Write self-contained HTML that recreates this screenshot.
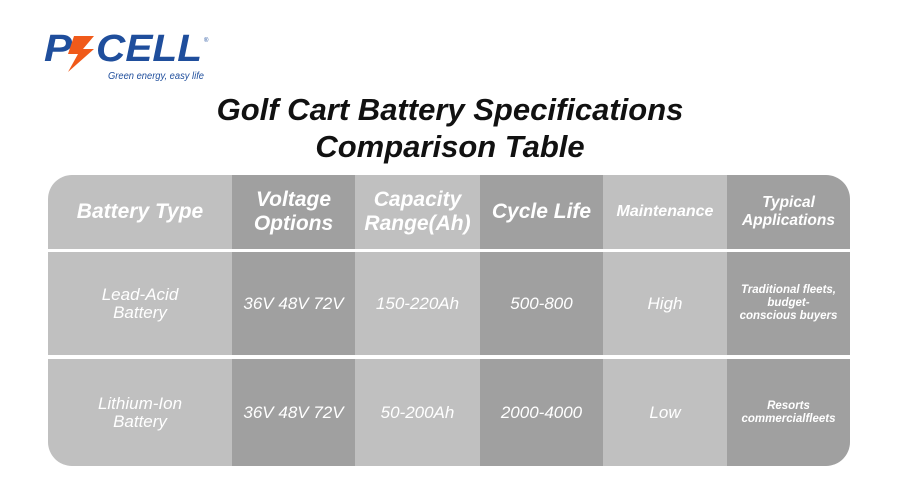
<!DOCTYPE html>
<html><head><meta charset="utf-8"><style>
body{margin:0;width:900px;height:500px;background:#fff;font-family:"Liberation Sans","DejaVu Sans",sans-serif;position:relative;overflow:hidden}
.logo{position:absolute;left:44px;top:30px}
.title{position:absolute;left:0;width:900px;top:91px;text-align:center;font-weight:bold;font-style:italic;font-size:31px;line-height:37px;color:#111}
.tbl{position:absolute;left:48px;top:175px;width:802px;height:291px;border-radius:24px;overflow:hidden;background:#fff}
.c{position:absolute;display:flex;align-items:center;justify-content:center;text-align:center;color:#fff;font-style:italic}
.l{background:#c0c0c0}.d{background:#a0a0a0}
.h{font-weight:bold;font-size:21px;line-height:24px}
.b{font-size:17px;line-height:18px}
.s{font-size:11.5px;line-height:13px;font-weight:bold}
</style></head><body>
<div class="logo">
<svg width="170" height="52" viewBox="0 0 170 52">
<text x="0" y="31" font-family="Liberation Sans" font-weight="bold" font-style="italic" font-size="38" fill="#1f4e9c" textLength="28" lengthAdjust="spacingAndGlyphs">P</text>
<polygon points="30,6 50,6 39,19 50,19 24,42 34,24 24,24" fill="#f05a1a"/>
<text x="52" y="31" font-family="Liberation Sans" font-weight="bold" font-style="italic" font-size="38" fill="#1f4e9c" textLength="106" lengthAdjust="spacingAndGlyphs">CELL</text>
<text x="160" y="12" font-size="6" fill="#1f4e9c">®</text>
<text x="64" y="49" font-family="Liberation Sans" font-style="italic" font-size="10" fill="#1f4e9c" textLength="96" lengthAdjust="spacingAndGlyphs">Green energy, easy life</text>
</svg></div>
<div class="title">Golf Cart Battery Specifications<br>Comparison Table</div>
<div class="tbl">
<div class="c l h" style="left:0;top:0;width:184px;height:74px">Battery Type</div>
<div class="c d h" style="left:184px;top:0;width:123px;height:74px">Voltage<br>Options</div>
<div class="c l h" style="left:307px;top:0;width:125px;height:74px">Capacity<br>Range(Ah)</div>
<div class="c d h" style="left:432px;top:0;width:123px;height:74px">Cycle Life</div>
<div class="c l" style="left:555px;top:0;width:124px;height:74px;font-weight:bold;font-size:16px">Maintenance</div>
<div class="c d" style="left:679px;top:0;width:123px;height:74px;font-weight:bold;font-size:15.5px;line-height:18px">Typical<br>Applications</div>

<div class="c l b" style="left:0;top:77px;width:184px;height:103px">Lead-Acid<br>Battery</div>
<div class="c d b" style="left:184px;top:77px;width:123px;height:103px">36V 48V 72V</div>
<div class="c l b" style="left:307px;top:77px;width:125px;height:103px">150-220Ah</div>
<div class="c d b" style="left:432px;top:77px;width:123px;height:103px">500-800</div>
<div class="c l b" style="left:555px;top:77px;width:124px;height:103px">High</div>
<div class="c d s" style="left:679px;top:77px;width:123px;height:103px">Traditional fleets,<br>budget-<br>conscious buyers</div>

<div class="c l b" style="left:0;top:184px;width:184px;height:107px">Lithium-Ion<br>Battery</div>
<div class="c d b" style="left:184px;top:184px;width:123px;height:107px">36V 48V 72V</div>
<div class="c l b" style="left:307px;top:184px;width:125px;height:107px">50-200Ah</div>
<div class="c d b" style="left:432px;top:184px;width:123px;height:107px">2000-4000</div>
<div class="c l b" style="left:555px;top:184px;width:124px;height:107px">Low</div>
<div class="c d s" style="left:679px;top:184px;width:123px;height:107px">Resorts<br>commercialfleets</div>
</div>
</body></html>
